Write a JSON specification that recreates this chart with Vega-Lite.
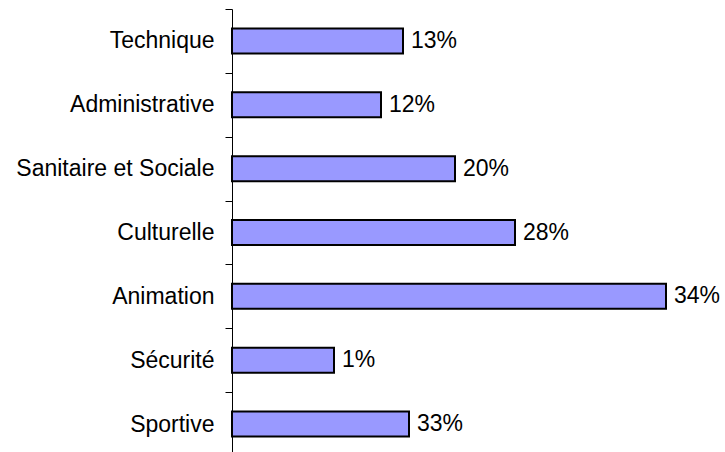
{
  "$schema": "https://vega.github.io/schema/vega-lite/v6.json",
  "autosize": {"type": "none"},
  "padding": {"left": 232, "top": 9, "right": 0, "bottom": 0},
  "width": 493,
  "height": 447,
  "background": "white",
  "config": {"view": {"stroke": null}, "font": "Liberation Sans"},
  "data": {
    "values": [
      {"category": "Technique", "value": 171, "label": "13%"},
      {"category": "Administrative", "value": 149, "label": "12%"},
      {"category": "Sanitaire et Sociale", "value": 223, "label": "20%"},
      {"category": "Culturelle", "value": 283, "label": "28%"},
      {"category": "Animation", "value": 434, "label": "34%"},
      {"category": "Sécurité", "value": 102, "label": "1%"},
      {"category": "Sportive", "value": 177, "label": "33%"}
    ]
  },
  "encoding": {
    "y": {
      "field": "category",
      "type": "nominal",
      "sort": null,
      "scale": {"paddingInner": 0, "paddingOuter": 0},
      "axis": {
        "title": null,
        "domainColor": "black",
        "domainWidth": 1,
        "tickColor": "black",
        "tickBand": "extent",
        "tickSize": 7,
        "labelPadding": 11,
        "labelFontSize": 23,
        "labelLimit": 0,
        "labelColor": "black",
        "labelFont": "Liberation Sans",
        "grid": false
      }
    },
    "x": {
      "field": "value",
      "type": "quantitative",
      "scale": {"domain": [0, 493], "nice": false},
      "axis": null
    }
  },
  "layer": [
    {"mark": {"type": "bar", "size": 25, "fill": "#9999FF", "stroke": "black", "strokeWidth": 2}},
    {
      "mark": {"type": "text", "align": "left", "baseline": "middle", "dx": 8, "fontSize": 23, "font": "Liberation Sans", "color": "black"},
      "encoding": {"text": {"field": "label"}}
    }
  ]
}
